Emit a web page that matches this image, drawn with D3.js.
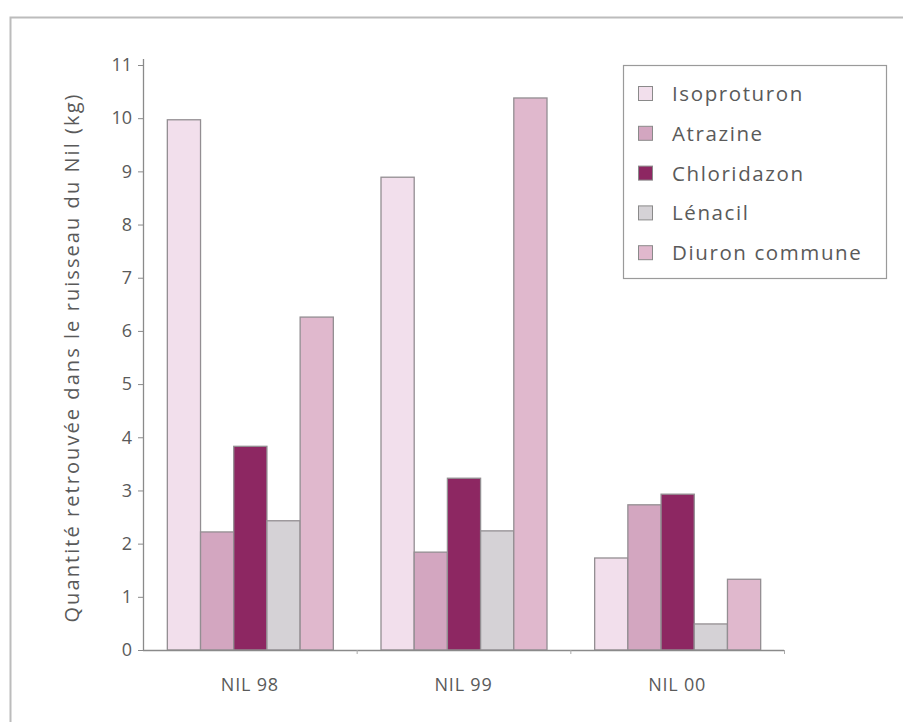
<!DOCTYPE html>
<html>
<head>
<meta charset="utf-8">
<script src="https://cdn.jsdelivr.net/npm/d3@7"></script>
<style>
  html, body { margin: 0; padding: 0; background: #fff; }
  svg { display: block; }
  text { font-family: "Open Sans", "Noto Sans", sans-serif; fill: #5a5a5a; }
</style>
</head>
<body>
<svg id="chart" width="903" height="722"></svg>
<script>
// Herbicide quantities found in the Nil stream (kg), per campaign
const campaigns = ["NIL 98", "NIL 99", "NIL 00"];
const substances = ["Isoproturon", "Atrazine", "Chloridazon", "Lénacil", "Diuron commune"];
const isoproturon = [9.97, 8.89, 1.73];
const atrazine = [2.22, 1.84, 2.73];
const chloridazon = [3.83, 3.23, 2.93];
const lenacil = [2.43, 2.24, 0.49];
const diuron = [6.26, 10.38, 1.33];
const yTicks = [0, 1, 2, 3, 4, 5, 6, 7, 8, 9, 10, 11];
const yTitle = "Quantité retrouvée dans le ruisseau du Nil (kg)";

const seriesValues = [isoproturon, atrazine, chloridazon, lenacil, diuron];
const fills = ["#f2dfec", "#d3a6c0", "#8d2762", "#d5d2d6", "#e0b8cd"];

const svg = d3.select("#chart");

// outer frame
svg.append("path")
  .attr("d", "M10.5,722 L10.5,17.5 L903,17.5")
  .attr("fill", "none").attr("stroke", "#bcbcbc").attr("stroke-width", 2);

const plotLeft = 143, plotRight = 784, plotTop = 65, plotBottom = 650;

const x0 = d3.scaleBand().domain(campaigns).range([plotLeft, plotRight]).padding(0);
const groupWidth = 166;
const x1 = d3.scaleBand().domain(substances).range([0, groupWidth]).padding(0);
const y = d3.scaleLinear().domain([0, 11]).range([plotBottom, plotTop]);
const color = d3.scaleOrdinal().domain(substances).range(fills);

// bars
const rows = [];
campaigns.forEach((c, i) => {
  substances.forEach((s, j) => rows.push({ campaign: c, substance: s, value: seriesValues[j][i] }));
});
const offset = (x0.bandwidth() - groupWidth) / 2;
svg.append("g").selectAll("rect").data(rows).join("rect")
  .attr("x", d => x0(d.campaign) + offset + x1(d.substance) + 0.5)
  .attr("y", d => y(d.value))
  .attr("width", x1.bandwidth())
  .attr("height", d => y(0) - y(d.value))
  .attr("fill", d => color(d.substance))
  .attr("stroke", "#938e92").attr("stroke-width", 1.3);

// y axis
const yAxis = d3.axisLeft(y).tickValues(yTicks).tickSize(5).tickPadding(6);
const gy = svg.append("g").attr("transform", `translate(${plotLeft},0)`).call(yAxis);
gy.select(".domain").attr("stroke", "#8a8a8a").attr("stroke-width", 1.3)
  .attr("d", `M0.5,${plotTop - 6}V${plotBottom}`);
gy.selectAll(".tick line").attr("stroke", "#8a8a8a");
gy.selectAll(".tick text").attr("font-size", 18).attr("fill", "#5a5a5a")
  .style("font-family", "'Open Sans', sans-serif");

// x axis: baseline with small marks at group boundaries
const xBoundaries = d3.axisBottom(d3.scaleLinear().domain([0, 3]).range([plotLeft, plotRight]))
  .tickValues([1, 2, 3]).tickSize(4).tickFormat("");
const gx = svg.append("g").attr("transform", `translate(0,${plotBottom})`).call(xBoundaries);
gx.select(".domain").attr("stroke", "#8a8a8a").attr("stroke-width", 1.3).attr("d", `M${plotLeft},0.5H${plotRight}`);
gx.selectAll(".tick line").attr("stroke", "#aaa");

svg.append("g").selectAll("text").data(campaigns).join("text")
  .attr("x", d => x0(d) + x0.bandwidth() / 2)
  .attr("y", 691)
  .attr("text-anchor", "middle")
  .attr("font-size", 18)
  .attr("letter-spacing", 0.8)
  .text(d => d);

// y axis title
svg.append("text")
  .attr("transform", `translate(79,${(plotTop + plotBottom) / 2 + 1}) rotate(-90)`)
  .attr("text-anchor", "middle")
  .attr("font-size", 20)
  .attr("textLength", 528)
  .attr("lengthAdjust", "spacing")
  .text(yTitle);

// legend
const legend = svg.append("g");
legend.append("rect")
  .attr("x", 623.5).attr("y", 65.5).attr("width", 263).attr("height", 213)
  .attr("fill", "#fff").attr("stroke", "#9a9a9a").attr("stroke-width", 1.2);
const item = legend.selectAll("g.item").data(substances).join("g")
  .attr("class", "item")
  .attr("transform", (d, i) => `translate(638,${94 + i * 39.8})`);
item.append("rect")
  .attr("x", 0.5).attr("y", -7.5).attr("width", 14).attr("height", 14)
  .attr("fill", d => color(d)).attr("stroke", "#8a8a8a").attr("stroke-width", 1);
item.append("text")
  .attr("x", 34).attr("y", 7)
  .attr("font-size", 20.5)
  .attr("letter-spacing", 1.6)
  .text(d => d);
</script>
</body>
</html>
